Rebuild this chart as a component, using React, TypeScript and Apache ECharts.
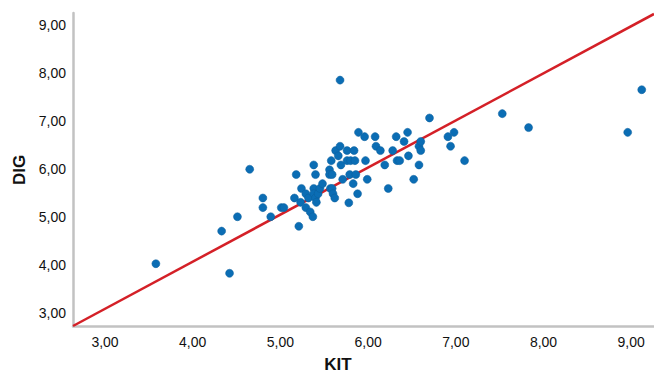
import React, { useEffect, useRef } from "react";
import * as echarts from "echarts";

const kit: number[] = [
  3.58, 4.33, 4.42, 4.51, 4.65, 4.80, 4.80, 4.89, 5.01, 5.04,
  5.16, 5.18, 5.21, 5.23, 5.24, 5.29, 5.29, 5.32, 5.34, 5.37,
  5.38, 5.38, 5.38, 5.40, 5.40, 5.41, 5.43, 5.45, 5.48, 5.56,
  5.56, 5.58, 5.57, 5.59, 5.59, 5.60, 5.62, 5.63, 5.66, 5.68,
  5.68, 5.69, 5.71, 5.76, 5.76, 5.78, 5.79, 5.80, 5.83, 5.84,
  5.85, 5.86, 5.88, 5.89, 5.96, 5.97, 5.99, 6.08, 6.09, 6.14,
  6.19, 6.23, 6.28, 6.32, 6.33, 6.36, 6.41, 6.45, 6.46, 6.52,
  6.58, 6.58, 6.60, 6.60, 6.70, 6.91, 6.94, 6.98, 7.10, 7.53,
  7.83, 8.96, 9.12,
];
const dig: number[] = [
  4.02, 4.70, 3.82, 5.00, 5.99, 5.39, 5.19, 5.00, 5.19, 5.19,
  5.39, 5.88, 4.80, 5.30, 5.59, 5.48, 5.19, 5.39, 5.10, 5.00,
  6.08, 5.59, 5.48, 5.88, 5.39, 5.30, 5.48, 5.59, 5.69, 5.98,
  5.88, 6.17, 5.59, 5.59, 5.88, 5.48, 5.39, 6.38, 6.27, 6.47,
  7.85, 6.08, 5.78, 6.38, 6.17, 5.29, 5.88, 6.17, 5.69, 6.38,
  6.17, 5.88, 5.48, 6.76, 6.67, 6.17, 5.78, 6.67, 6.47, 6.38,
  6.08, 5.59, 6.38, 6.67, 6.17, 6.17, 6.57, 6.76, 6.27, 5.78,
  6.47, 6.08, 6.57, 6.38, 7.06, 6.67, 6.47, 6.76, 6.17, 7.15,
  6.86, 6.76, 7.65,
];
const lineX: number[] = [2.635, 9.26];
const lineY: number[] = [2.72, 9.23];
const tickValues: number[] = [3, 4, 5, 6, 7, 8, 9];

const fmt = (v: number) => v.toFixed(2).replace(".", ",");

export default function App() {
  const ref = useRef<HTMLDivElement>(null);
  useEffect(() => {
    document.body.style.margin = "0";
    if (!ref.current) return;
    const chart = echarts.init(ref.current, null, { renderer: "svg" });
    const font = "'Liberation Sans', Arial, sans-serif";
    chart.setOption({
      animation: false,
      textStyle: { fontFamily: font },
      grid: { left: 73, top: 13, right: 0, bottom: 48 },
      xAxis: {
        type: "value",
        min: 2.635,
        max: 9.26,
        splitLine: { show: false },
        axisTick: { show: false },
        axisLine: { show: true, onZero: false, lineStyle: { color: "#c2c2c2", width: 2.5 } },
        axisLabel: {
          customValues: tickValues,
          formatter: (v: number) => fmt(v),
          color: "#111",
          fontSize: 14,
          fontFamily: font,
          margin: 9,
        },
      },
      yAxis: {
        type: "value",
        min: 2.72,
        max: 9.25,
        splitLine: { show: false },
        axisTick: { show: false },
        axisLine: { show: true, onZero: false, lineStyle: { color: "#c2c2c2", width: 2.5 } },
        axisLabel: {
          customValues: tickValues,
          formatter: (v: number) => fmt(v),
          color: "#111",
          fontSize: 14,
          fontFamily: font,
          margin: 7,
        },
      },
      graphic: [
        {
          type: "text",
          x: 338,
          y: 364,
          style: {
            text: "KIT",
            font: `bold 17px ${font}`,
            fill: "#111",
            textAlign: "center",
            textVerticalAlign: "middle",
          },
        },
        {
          type: "text",
          x: 19,
          y: 170,
          rotation: Math.PI / 2,
          style: {
            text: "DIG",
            font: `bold 17px ${font}`,
            fill: "#111",
            textAlign: "center",
            textVerticalAlign: "middle",
          },
        },
      ],
      series: [
        {
          type: "line",
          data: lineX.map((x, i) => [x, lineY[i]]),
          symbol: "none",
          lineStyle: { color: "#d42027", width: 2.5 },
          z: 1,
        },
        {
          type: "scatter",
          data: kit.map((x, i) => [x, dig[i]]),
          symbol: "circle",
          symbolSize: 8,
          itemStyle: { color: "#0b6db4", borderColor: "#0a5e9c", borderWidth: 0.5, opacity: 1 },
          z: 2,
        },
      ],
    });
    return () => chart.dispose();
  }, []);
  return (
    <div
      ref={ref}
      style={{ position: "absolute", left: 0, top: 0, width: 654, height: 374, background: "#fff" }}
    />
  );
}
